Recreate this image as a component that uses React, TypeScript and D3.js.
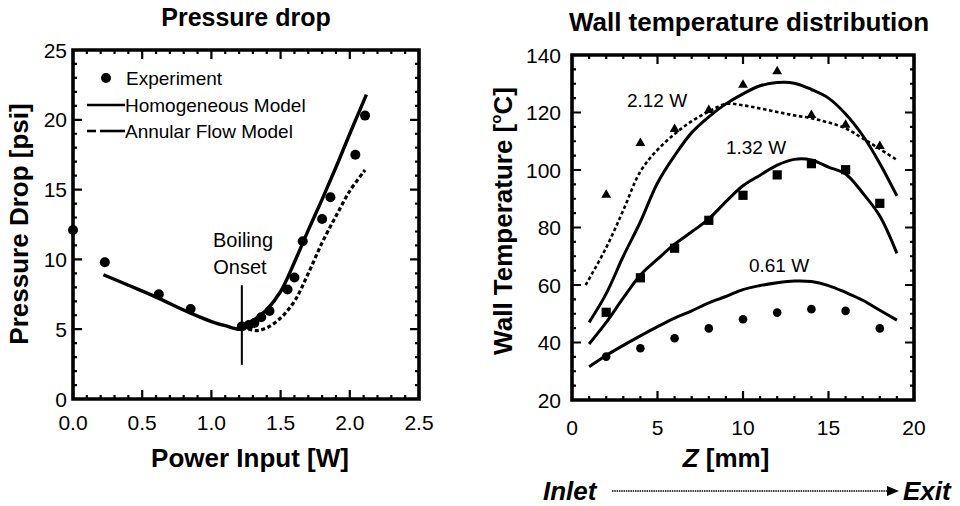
import React from "react";
import * as d3 from "d3";

// ---------- Left chart: pressure drop ----------
const expPower = [0.0, 0.23, 0.62, 0.85, 1.22, 1.27, 1.31, 1.36, 1.42, 1.55, 1.6, 1.66, 1.8, 1.86, 2.04, 2.11];
const expDrop = [12.1, 9.8, 7.5, 6.45, 5.2, 5.3, 5.45, 5.85, 6.3, 7.85, 8.7, 11.3, 12.9, 14.45, 17.5, 20.3];

const homPower = [0.22, 0.4, 0.6, 0.85, 1.0, 1.1, 1.22, 1.3, 1.4, 1.5, 1.6, 1.7, 1.8, 1.9, 2.0, 2.12];
const homDrop = [8.9, 8.15, 7.3, 6.15, 5.55, 5.25, 5.0, 5.6, 6.4, 7.7, 9.8, 12.1, 14.3, 16.6, 19.0, 21.8];

const annPower = [1.22, 1.27, 1.33, 1.4, 1.5, 1.6, 1.7, 1.8, 1.9, 2.0, 2.11];
const annDrop = [5.1, 5.0, 4.9, 5.1, 5.8, 7.0, 9.0, 11.2, 13.1, 14.9, 16.4];

const onsetPower = 1.22;
const onsetRange = [8.15, 2.45];

const pdXTicks = [0, 0.5, 1.0, 1.5, 2.0, 2.5];
const pdYTicks = [0, 5, 10, 15, 20, 25];

// ---------- Right chart: wall temperature ----------
const zExp = [2, 4, 6, 8, 10, 12, 14, 16, 18];
const t212Exp = [91.3, 109.3, 114.2, 120.8, 129.6, 134.3, 119.1, 115.7, 108.3];
const t132Exp = [50.5, 62.5, 72.8, 82.5, 91.2, 98.3, 102.2, 100.1, 88.4];
const t061Exp = [35.1, 38.0, 41.5, 44.9, 48.1, 50.4, 51.6, 51.0, 44.9];

const zModel = [1, 2, 3, 4, 5, 6, 7, 8, 9, 10, 11, 12, 13, 14, 15, 16, 17, 18, 19];
const t212Model = [47, 57, 70, 82, 95.5, 105, 113, 118.5, 123, 126.5, 129.3, 130.4, 130.2, 128, 125, 119.5, 112, 102.3, 91];
const t132Model = [39.5, 47, 55.5, 63.5, 69, 74.2, 78.5, 83, 89, 94.5, 98.2, 101.7, 103.7, 103.5, 101, 98.6, 92, 84, 71];
const t061Model = [31.6, 35.5, 39, 42.3, 45.5, 48.5, 51, 53.8, 56, 58.4, 59.8, 60.8, 61.4, 61.2, 59.8, 57.4, 54.7, 51.2, 47.8];

const zDash = [0.8, 2, 3, 4, 5, 6, 7, 8, 9, 10, 11, 12, 13, 14, 15, 16, 17, 18, 19];
const t212Dash = [60, 73, 86, 99.5, 107, 112.5, 117, 120.3, 123, 122.5, 121.4, 120.2, 119, 118, 116.5, 114.5, 111, 107.3, 103.5];

const wtXTicks = [0, 5, 10, 15, 20];
const wtYTicks = [20, 40, 60, 80, 100, 120, 140];

const FONT = "Liberation Sans, Arial, Helvetica, sans-serif";

export default function App() {
  const xL = d3.scaleLinear().domain([0, 2.5]).range([73, 419]);
  const yL = d3.scaleLinear().domain([0, 25]).range([399, 50]);

  const xR = d3.scaleLinear().domain([0, 20]).range([572, 914]);
  const yR = d3.scaleLinear().domain([20, 140]).range([400, 55]);

  const mk = (sx: any, sy: any, xs: number[], ys: number[]) =>
    d3
      .line<number>()
      .x((_, i) => sx(xs[i]))
      .y((d) => sy(d))
      .curve(d3.curveCatmullRom.alpha(0.5))(ys) as string;

  const sq = d3.symbol().type(d3.symbolSquare).size(85)() as string;
  const tri = d3.symbol().type(d3.symbolTriangle).size(42)() as string;

  // frame drawn as a filled ring, ticks as small filled bars
  const frameAndTicks = (sx: any, sy: any, xMajor: number[], xStep: number, yMajor: number[], yStep: number) => {
    const [x0, x1] = sx.range();
    const [y1, y0] = sy.range();
    const [dx0, dx1] = sx.domain();
    const [dy0, dy1] = sy.domain();
    const xs = d3.range(dx0, dx1 + xStep / 2, xStep);
    const ys = d3.range(dy0, dy1 + yStep / 2, yStep);
    const isM = (arr: number[], v: number) => arr.some((m) => Math.abs(m - v) < 1e-6);
    const h = 1.8; // half frame width
    const tw = 1.1; // half tick width
    const p = d3.path();
    p.rect(x0 - h, y0 - h, x1 - x0 + 2 * h, y1 - y0 + 2 * h);
    p.rect(x0 + h, y0 + h, x1 - x0 - 2 * h, y1 - y0 - 2 * h);
    const q = d3.path();
    xs.forEach((v) => {
      const x = sx(v);
      const L = isM(xMajor, v) ? 9 : 4;
      q.rect(x - tw, y1 - L, 2 * tw, L);
      q.rect(x - tw, y0, 2 * tw, L);
    });
    ys.forEach((v) => {
      const y = sy(v);
      const L = isM(yMajor, v) ? 9 : 4;
      q.rect(x0, y - tw, L, 2 * tw);
      q.rect(x1 - L, y - tw, L, 2 * tw);
    });
    return { ring: p.toString(), ticks: q.toString() };
  };

  const axL = frameAndTicks(xL, yL, pdXTicks, 0.1, pdYTicks, 1);
  const axR = frameAndTicks(xR, yR, wtXTicks, 1, wtYTicks, 5);

  return (
    <svg width={960} height={506} style={{ display: "block", margin: "-8px 0 0 -8px" }} fontFamily={FONT}>
      {/* ================= LEFT ================= */}
      <text x={246} y={26} textAnchor="middle" fontSize={25} fontWeight="bold">Pressure drop</text>

      <path d={mk(xL, yL, homPower, homDrop)} fill="none" stroke="#000" strokeWidth={3.4} />
      <path d={mk(xL, yL, annPower, annDrop)} fill="none" stroke="#000" strokeWidth={3.2} strokeDasharray="4 2.6" />
      {expPower.map((p, i) => (
        <circle key={"e" + i} cx={xL(p)} cy={yL(expDrop[i])} r={5} fill="#000" />
      ))}

      <line x1={xL(onsetPower)} x2={xL(onsetPower)} y1={yL(onsetRange[0])} y2={yL(onsetRange[1])} stroke="#000" strokeWidth={2} />
      <text x={243} y={247} textAnchor="middle" fontSize={20}>Boiling</text>
      <text x={240} y={274} textAnchor="middle" fontSize={20}>Onset</text>

      <circle cx={106} cy={78} r={5} fill="#000" />
      <text x={126} y={85} fontSize={19}>Experiment</text>
      <line x1={87} x2={125} y1={105} y2={105} stroke="#000" strokeWidth={2.6} />
      <text x={125} y={112} fontSize={19}>Homogeneous Model</text>
      <line x1={87} x2={96} y1={131} y2={131} stroke="#000" strokeWidth={2.6} />
      <line x1={100} x2={125} y1={131} y2={131} stroke="#000" strokeWidth={2.6} />
      <text x={125} y={138} fontSize={19}>Annular Flow Model</text>

      <path d={axL.ticks} fill="#000" stroke="none" />
      <path d={axL.ring} fill="#000" fillRule="evenodd" stroke="none" />

      {pdXTicks.map((t) => (
        <text key={"lx" + t} x={xL(t)} y={430} textAnchor="middle" fontSize={21}>{t.toFixed(1)}</text>
      ))}
      {pdYTicks.map((t) => (
        <text key={"ly" + t} x={67} y={yL(t)} dy="0.36em" textAnchor="end" fontSize={21}>{t}</text>
      ))}

      <text x={250} y={467} textAnchor="middle" fontSize={26} fontWeight="bold">Power Input [W]</text>
      <text transform="translate(28,224) rotate(-90)" textAnchor="middle" fontSize={26} fontWeight="bold">Pressure Drop [psi]</text>

      {/* ================= RIGHT ================= */}
      <text x={749} y={31} textAnchor="middle" fontSize={26} fontWeight="bold">Wall temperature distribution</text>

      <path d={mk(xR, yR, zModel, t212Model)} fill="none" stroke="#000" strokeWidth={3} />
      <path d={mk(xR, yR, zModel, t132Model)} fill="none" stroke="#000" strokeWidth={3} />
      <path d={mk(xR, yR, zModel, t061Model)} fill="none" stroke="#000" strokeWidth={3} />
      <path d={mk(xR, yR, zDash, t212Dash)} fill="none" stroke="#000" strokeWidth={2.6} strokeDasharray="3.5 2.6" />
      {zExp.map((z, i) => (
        <path key={"t" + i} d={tri} transform={`translate(${xR(z)},${yR(t212Exp[i])})`} fill="#000" />
      ))}
      {zExp.map((z, i) => (
        <path key={"s" + i} d={sq} transform={`translate(${xR(z)},${yR(t132Exp[i])})`} fill="#000" />
      ))}
      {zExp.map((z, i) => (
        <circle key={"c" + i} cx={xR(z)} cy={yR(t061Exp[i])} r={4.3} fill="#000" />
      ))}

      <text x={657} y={107} textAnchor="middle" fontSize={19}>2.12 W</text>
      <text x={756} y={154} textAnchor="middle" fontSize={19}>1.32 W</text>
      <text x={779} y={272} textAnchor="middle" fontSize={19}>0.61 W</text>

      <path d={axR.ticks} fill="#000" stroke="none" />
      <path d={axR.ring} fill="#000" fillRule="evenodd" stroke="none" />

      {wtXTicks.map((t) => (
        <text key={"rx" + t} x={xR(t)} y={435} textAnchor="middle" fontSize={21}>{t}</text>
      ))}
      {wtYTicks.map((t) => (
        <text key={"ry" + t} x={561} y={yR(t)} dy="0.36em" textAnchor="end" fontSize={21}>{t}</text>
      ))}

      <text x={726} y={467} textAnchor="middle" fontSize={26} fontWeight="bold">
        <tspan fontStyle="italic">Z</tspan> [mm]
      </text>
      <text transform="translate(512,221) rotate(-90)" textAnchor="middle" fontSize={26} fontWeight="bold">
        Wall Temperature [<tspan fontSize={15} dy={-11}>o</tspan><tspan dy={11}>C]</tspan>
      </text>

      <text x={543} y={500} fontSize={26} fontWeight="bold" fontStyle="italic">Inlet</text>
      <line x1={612} x2={888} y1={491} y2={491} stroke="#000" strokeWidth={1.6} strokeDasharray="1.5 0.8" />
      <path d="M887,486 L899,491 L887,496 Z" fill="#000" />
      <text x={903} y={500} fontSize={26} fontWeight="bold" fontStyle="italic">Exit</text>
    </svg>
  );
}
